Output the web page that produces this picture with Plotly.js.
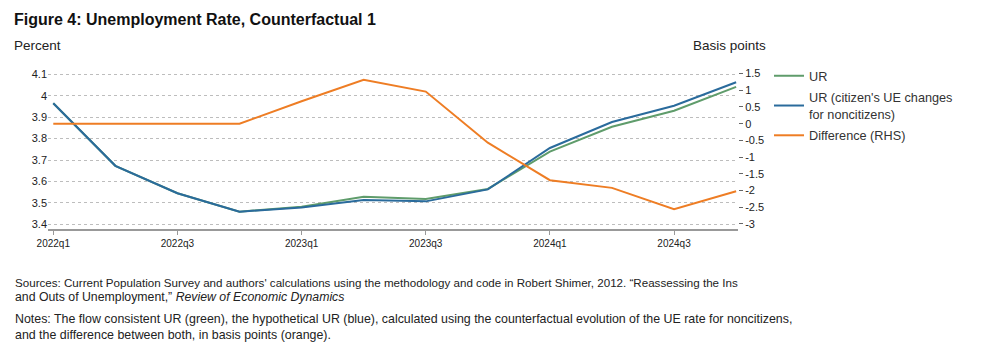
<!DOCTYPE html>
<html>
<head>
<meta charset="utf-8">
<script src="https://cdn.plot.ly/plotly-3.0.1.min.js"></script>
<style>html,body{margin:0;padding:0;background:#fff;}#chart{width:991px;height:355px;}</style>
</head>
<body>
<div id="chart"></div>
<script>
const quarters = ["2022q1","2022q2","2022q3","2022q4","2023q1","2023q2","2023q3","2023q4","2024q1","2024q2","2024q3","2024q4"];
const urGreen = [3.965, 3.673, 3.545, 3.459, 3.482, 3.529, 3.518, 3.565, 3.739, 3.855, 3.930, 4.041];
const urBlue  = [3.965, 3.673, 3.545, 3.459, 3.478, 3.513, 3.507, 3.563, 3.756, 3.877, 3.953, 4.063];
const diffBP  = [0, 0, 0, 0, 0.67, 1.31, 0.96, -0.57, -1.69, -1.92, -2.56, -2.02];
const xTickLabels = ["2022q1","2022q3","2023q1","2023q3","2024q1","2024q3"];
const leftTicks = [3.4, 3.5, 3.6, 3.7, 3.8, 3.9, 4, 4.1];
const rightTicks = [-3, -2.5, -2, -1.5, -1, -0.5, 0, 0.5, 1, 1.5];

const xs = quarters.map((q, i) => i);
const tickIdx = xTickLabels.map(l => quarters.indexOf(l));

const L = 48, R = 738, T = 70, B = 229;
const W = 991, H = 355;
const px = p => (p - L) / (R - L);
const py = p => (B - p) / (B - T);

const font = "Liberation Sans, Arial, sans-serif";
const traces = [
  {x: xs, y: urGreen, name: "UR", type: "scatter", mode: "lines", legendgroup: "a",
   line: {color: "#5f9c6b", width: 2}},
  {x: xs, y: urBlue, name: "UR (citizen's UE changes<br>for noncitizens)", type: "scatter", mode: "lines", legendgroup: "b",
   line: {color: "#2a6b9c", width: 2}},
  {x: xs, y: diffBP, name: "Difference (RHS)", type: "scatter", mode: "lines", yaxis: "y2", legendgroup: "c",
   line: {color: "#ee7d24", width: 2}}
];

const layout = {
  width: W, height: H,
  margin: {l: L, r: W - R, t: T, b: H - B},
  paper_bgcolor: "#fff", plot_bgcolor: "#fff",
  font: {family: font, color: "#222"},
  showlegend: true,
  title: {text: "<b>Figure 4: Unemployment Rate, Counterfactual 1</b>", x: 14 / W, xanchor: "left",
          y: 1 - 19 / H, yanchor: "middle", font: {size: 16, color: "#111", family: font}},
  xaxis: {range: [-0.085, 11.03], tickvals: tickIdx, ticktext: xTickLabels, tickangle: 0,
          showgrid: false, zeroline: false, showline: true, linecolor: "#999", linewidth: 1.5,
          ticks: "outside", ticklen: 4, tickcolor: "#999", tickfont: {size: 10, color: "#222"}},
  yaxis: {range: [3.378, 4.12], tickvals: leftTicks, ticktext: leftTicks.map(String),
          showgrid: true, gridcolor: "#bdbdbd", griddash: "dot", gridwidth: 1,
          zeroline: false, showline: false, ticks: "", tickfont: {size: 11, color: "#222"}},
  yaxis2: {overlaying: "y", side: "right", range: [-3.15, 1.605], tickvals: rightTicks,
           ticktext: rightTicks.map(String), showgrid: false, zeroline: false, showline: false,
           ticks: "outside", ticklen: 4, tickcolor: "#666", tickfont: {size: 11, color: "#222"}},
  legend: {x: px(769), y: py(61), xanchor: "left", yanchor: "top", bgcolor: "rgba(0,0,0,0)",
           font: {size: 12.7, color: "#333"}, tracegroupgap: 2, itemwidth: 30, traceorder: "grouped"},
  annotations: [
    {text: "Percent", xref: "paper", yref: "paper", x: px(12), y: py(45), xanchor: "left", yanchor: "middle",
     showarrow: false, font: {size: 13.5, color: "#222"}},
    {text: "Basis points", xref: "paper", yref: "paper", x: px(768), y: py(45), xanchor: "right", yanchor: "middle",
     showarrow: false, font: {size: 13.5, color: "#222"}},
    {text: "Sources: Current Population Survey and authors' calculations using the methodology and code in Robert Shimer, 2012. “Reassessing the Ins",
     xref: "paper", yref: "paper", x: px(13), y: py(282), xanchor: "left", yanchor: "middle", align: "left",
     showarrow: false, font: {size: 11.6, color: "#222"}},
    {text: "and Outs of Unemployment,” <i>Review of Economic Dynamics</i>",
     xref: "paper", yref: "paper", x: px(13), y: py(297), xanchor: "left", yanchor: "middle", align: "left",
     showarrow: false, font: {size: 12.3, color: "#222"}},
    {text: "Notes: The flow consistent UR (green), the hypothetical UR (blue), calculated using the counterfactual evolution of the UE rate for noncitizens,<br>and the difference between both, in basis points (orange).",
     xref: "paper", yref: "paper", x: px(13), y: py(310), xanchor: "left", yanchor: "top", align: "left",
     showarrow: false, font: {size: 12.4, color: "#222"}}
  ]
};

Plotly.newPlot("chart", traces, layout, {staticPlot: true, displayModeBar: false});
</script>
</body>
</html>
